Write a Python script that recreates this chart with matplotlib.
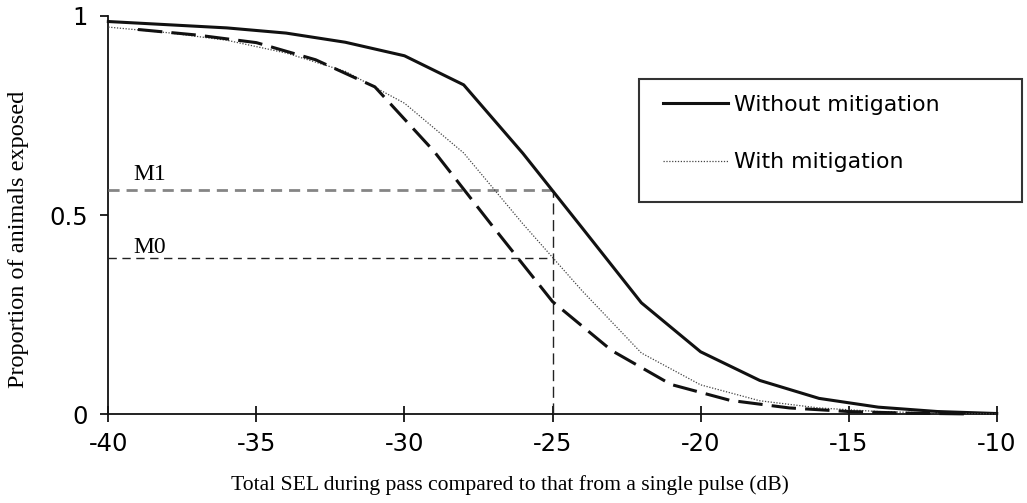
import numpy as np
import matplotlib
matplotlib.use("Agg")
import matplotlib.pyplot as plt
from matplotlib.patches import Rectangle

# SEL offset (dB) and proportion of animals exposed
sel_even = [-40, -38, -36, -34, -32, -30, -28, -26, -24, -22, -20, -18, -16, -14, -12, -10]
without_mitigation = [0.986, 0.978, 0.970, 0.957, 0.934, 0.900, 0.827, 0.655, 0.468,
                      0.280, 0.157, 0.085, 0.040, 0.018, 0.007, 0.002]
with_mitigation = [0.972, 0.958, 0.939, 0.907, 0.861, 0.781, 0.656, 0.478, 0.310,
                   0.154, 0.074, 0.034, 0.016, 0.007, 0.003, 0.001]

sel_odd = [-39, -37, -35, -33, -31, -29, -27, -25, -23, -21, -19, -17, -15, -13, -11]
third_curve = [0.966, 0.952, 0.933, 0.890, 0.822, 0.660, 0.470, 0.283, 0.160,
               0.075, 0.035, 0.016, 0.007, 0.003, 0.001]

sel_mark = -25
m1 = 0.562
m0 = 0.393

plt.rcParams['axes.unicode_minus'] = False
serif = 'Liberation Serif'

fig = plt.figure(figsize=(10.27, 5.03), dpi=100)
ax = fig.add_axes([0.1055, 0.1763, 0.865, 0.792])

ax.plot(sel_even, without_mitigation, color='#111111', lw=2.2, label='Without mitigation',
        clip_on=False, zorder=4)
ax.plot(sel_even, with_mitigation, color='#444444', lw=0.9, linestyle=(0, (1, 1.3)),
        label='With mitigation', clip_on=False, zorder=4)
ax.plot(sel_odd, third_curve, color='#111111', lw=2.2, dashes=(8, 3), clip_on=False, zorder=4)

# reference lines
ax.plot([-40, sel_mark], [m1, m1], color='#858585', lw=2.0, dashes=(4, 2.5), zorder=3)
ax.plot([-40, sel_mark], [m0, m0], color='#222222', lw=1.0, dashes=(6, 4), zorder=3)
ax.plot([sel_mark, sel_mark], [0, m1], color='#222222', lw=1.0, dashes=(8, 4), zorder=3)
ax.text(-39.15, m1 + 0.040, 'M1', family=serif, fontsize=17, va='center', ha='left')
ax.text(-39.15, m0 + 0.027, 'M0', family=serif, fontsize=17, va='center', ha='left')

ax.set_xlim(-40, -10)
ax.set_ylim(0, 1)
ax.set_xticks([-40, -35, -30, -25, -20, -15, -10])
ax.set_yticks([0, 0.5, 1])
ax.set_yticklabels(['0', '0.5', '1'])

for s in ['top', 'right']:
    ax.spines[s].set_visible(False)
for s in ['left', 'bottom']:
    ax.spines[s].set_linewidth(1.3)
    ax.spines[s].set_color('#111111')

ax.tick_params(axis='x', direction='inout', length=11, width=1.2, labelsize=17.5, pad=7)
ax.tick_params(axis='y', direction='out', length=6, width=1.2, labelsize=17.5, pad=9)

ax.set_xlabel('Total SEL during pass compared to that from a single pulse (dB)',
              family=serif, fontsize=15.6, va='center')
ax.xaxis.set_label_coords(0.452, -0.178)
ax.set_ylabel('Proportion of animals exposed', family=serif, fontsize=17.5, va='center')
ax.yaxis.set_label_coords(-0.1016, 0.438)

# legend box
box = Rectangle((639 / 1027, 1 - 202 / 503), (1022 - 639) / 1027, (202 - 79) / 503,
                transform=fig.transFigure, fill=False, edgecolor='#333333', lw=1.5)
fig.patches.append(box)
leg = ax.legend(loc='upper left', bbox_to_anchor=(652 / 1027, 1 - 84 / 503),
                bbox_transform=fig.transFigure, frameon=False, fontsize=15.8,
                handlelength=2.95, handletextpad=0.3, labelspacing=1.7, borderpad=0)

fig.savefig('out.png', dpi=100)
